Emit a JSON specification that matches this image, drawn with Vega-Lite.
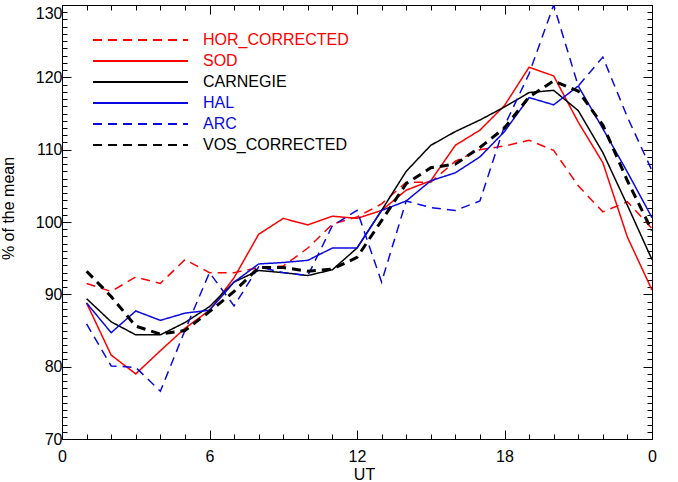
{
  "$schema": "https://vega.github.io/schema/vega-lite/v6.json",
  "width": 590,
  "height": 434,
  "autosize": {"type": "none"},
  "padding": {"left": 62, "top": 5, "right": 26, "bottom": 43},
  "data": {
    "values": [
      {"UT": 1, "series": "HOR_CORRECTED", "pct": 91.5}, {"UT": 2, "series": "HOR_CORRECTED", "pct": 90.4},
      {"UT": 3, "series": "HOR_CORRECTED", "pct": 92.4}, {"UT": 4, "series": "HOR_CORRECTED", "pct": 91.5},
      {"UT": 5, "series": "HOR_CORRECTED", "pct": 94.8}, {"UT": 6, "series": "HOR_CORRECTED", "pct": 93.0},
      {"UT": 7, "series": "HOR_CORRECTED", "pct": 93.0}, {"UT": 8, "series": "HOR_CORRECTED", "pct": 93.7},
      {"UT": 9, "series": "HOR_CORRECTED", "pct": 93.9}, {"UT": 10, "series": "HOR_CORRECTED", "pct": 96.4},
      {"UT": 11, "series": "HOR_CORRECTED", "pct": 99.7}, {"UT": 12, "series": "HOR_CORRECTED", "pct": 100.7},
      {"UT": 13, "series": "HOR_CORRECTED", "pct": 102.5}, {"UT": 14, "series": "HOR_CORRECTED", "pct": 105.5},
      {"UT": 15, "series": "HOR_CORRECTED", "pct": 105.5}, {"UT": 16, "series": "HOR_CORRECTED", "pct": 108.4},
      {"UT": 17, "series": "HOR_CORRECTED", "pct": 110.0}, {"UT": 18, "series": "HOR_CORRECTED", "pct": 110.5},
      {"UT": 19, "series": "HOR_CORRECTED", "pct": 111.3}, {"UT": 20, "series": "HOR_CORRECTED", "pct": 109.9},
      {"UT": 21, "series": "HOR_CORRECTED", "pct": 105.0}, {"UT": 22, "series": "HOR_CORRECTED", "pct": 101.4},
      {"UT": 23, "series": "HOR_CORRECTED", "pct": 102.8}, {"UT": 24, "series": "HOR_CORRECTED", "pct": 99.1},

      {"UT": 1, "series": "SOD", "pct": 88.8}, {"UT": 2, "series": "SOD", "pct": 81.6},
      {"UT": 3, "series": "SOD", "pct": 79.0}, {"UT": 4, "series": "SOD", "pct": 82.2},
      {"UT": 5, "series": "SOD", "pct": 85.3}, {"UT": 6, "series": "SOD", "pct": 87.8},
      {"UT": 7, "series": "SOD", "pct": 92.3}, {"UT": 8, "series": "SOD", "pct": 98.3},
      {"UT": 9, "series": "SOD", "pct": 100.5}, {"UT": 10, "series": "SOD", "pct": 99.6},
      {"UT": 11, "series": "SOD", "pct": 100.8}, {"UT": 12, "series": "SOD", "pct": 100.5},
      {"UT": 13, "series": "SOD", "pct": 101.6}, {"UT": 14, "series": "SOD", "pct": 104.4},
      {"UT": 15, "series": "SOD", "pct": 105.7}, {"UT": 16, "series": "SOD", "pct": 110.6},
      {"UT": 17, "series": "SOD", "pct": 112.7}, {"UT": 18, "series": "SOD", "pct": 116.1},
      {"UT": 19, "series": "SOD", "pct": 121.4}, {"UT": 20, "series": "SOD", "pct": 120.2},
      {"UT": 21, "series": "SOD", "pct": 113.8}, {"UT": 22, "series": "SOD", "pct": 108.2},
      {"UT": 23, "series": "SOD", "pct": 97.9}, {"UT": 24, "series": "SOD", "pct": 90.6},

      {"UT": 1, "series": "CARNEGIE", "pct": 89.4}, {"UT": 2, "series": "CARNEGIE", "pct": 86.2},
      {"UT": 3, "series": "CARNEGIE", "pct": 84.4}, {"UT": 4, "series": "CARNEGIE", "pct": 84.4},
      {"UT": 5, "series": "CARNEGIE", "pct": 86.1}, {"UT": 6, "series": "CARNEGIE", "pct": 88.3},
      {"UT": 7, "series": "CARNEGIE", "pct": 91.7}, {"UT": 8, "series": "CARNEGIE", "pct": 93.3},
      {"UT": 9, "series": "CARNEGIE", "pct": 93.0}, {"UT": 10, "series": "CARNEGIE", "pct": 92.6},
      {"UT": 11, "series": "CARNEGIE", "pct": 93.4}, {"UT": 12, "series": "CARNEGIE", "pct": 96.4},
      {"UT": 13, "series": "CARNEGIE", "pct": 101.6}, {"UT": 14, "series": "CARNEGIE", "pct": 107.0},
      {"UT": 15, "series": "CARNEGIE", "pct": 110.6}, {"UT": 16, "series": "CARNEGIE", "pct": 112.5},
      {"UT": 17, "series": "CARNEGIE", "pct": 114.1}, {"UT": 18, "series": "CARNEGIE", "pct": 115.9},
      {"UT": 19, "series": "CARNEGIE", "pct": 117.9}, {"UT": 20, "series": "CARNEGIE", "pct": 118.2},
      {"UT": 21, "series": "CARNEGIE", "pct": 115.4}, {"UT": 22, "series": "CARNEGIE", "pct": 109.6},
      {"UT": 23, "series": "CARNEGIE", "pct": 102.3}, {"UT": 24, "series": "CARNEGIE", "pct": 94.8},

      {"UT": 1, "series": "HAL", "pct": 88.8}, {"UT": 2, "series": "HAL", "pct": 84.7},
      {"UT": 3, "series": "HAL", "pct": 87.7}, {"UT": 4, "series": "HAL", "pct": 86.4},
      {"UT": 5, "series": "HAL", "pct": 87.4}, {"UT": 6, "series": "HAL", "pct": 87.8},
      {"UT": 7, "series": "HAL", "pct": 91.7}, {"UT": 8, "series": "HAL", "pct": 94.2},
      {"UT": 9, "series": "HAL", "pct": 94.4}, {"UT": 10, "series": "HAL", "pct": 94.7},
      {"UT": 11, "series": "HAL", "pct": 96.4}, {"UT": 12, "series": "HAL", "pct": 96.4},
      {"UT": 13, "series": "HAL", "pct": 101.6}, {"UT": 14, "series": "HAL", "pct": 102.9},
      {"UT": 15, "series": "HAL", "pct": 105.7}, {"UT": 16, "series": "HAL", "pct": 106.8},
      {"UT": 17, "series": "HAL", "pct": 109.0}, {"UT": 18, "series": "HAL", "pct": 112.5},
      {"UT": 19, "series": "HAL", "pct": 117.2}, {"UT": 20, "series": "HAL", "pct": 116.2},
      {"UT": 21, "series": "HAL", "pct": 118.8}, {"UT": 22, "series": "HAL", "pct": 112.9},
      {"UT": 23, "series": "HAL", "pct": 106.9}, {"UT": 24, "series": "HAL", "pct": 100.6},

      {"UT": 1, "series": "ARC", "pct": 85.9}, {"UT": 2, "series": "ARC", "pct": 80.1},
      {"UT": 3, "series": "ARC", "pct": 79.9}, {"UT": 4, "series": "ARC", "pct": 76.6},
      {"UT": 5, "series": "ARC", "pct": 85.0}, {"UT": 6, "series": "ARC", "pct": 93.0},
      {"UT": 7, "series": "ARC", "pct": 88.4}, {"UT": 8, "series": "ARC", "pct": 93.8},
      {"UT": 9, "series": "ARC", "pct": 93.0}, {"UT": 10, "series": "ARC", "pct": 92.6},
      {"UT": 11, "series": "ARC", "pct": 99.5}, {"UT": 12, "series": "ARC", "pct": 101.6},
      {"UT": 13, "series": "ARC", "pct": 91.7}, {"UT": 14, "series": "ARC", "pct": 102.9},
      {"UT": 15, "series": "ARC", "pct": 102.0}, {"UT": 16, "series": "ARC", "pct": 101.6},
      {"UT": 17, "series": "ARC", "pct": 102.9}, {"UT": 18, "series": "ARC", "pct": 113.3},
      {"UT": 19, "series": "ARC", "pct": 120.5}, {"UT": 20, "series": "ARC", "pct": 130.0},
      {"UT": 21, "series": "ARC", "pct": 118.8}, {"UT": 22, "series": "ARC", "pct": 122.8},
      {"UT": 23, "series": "ARC", "pct": 114.5}, {"UT": 24, "series": "ARC", "pct": 107.1},

      {"UT": 1, "series": "VOS_CORRECTED", "pct": 93.2}, {"UT": 2, "series": "VOS_CORRECTED", "pct": 89.7},
      {"UT": 3, "series": "VOS_CORRECTED", "pct": 85.6}, {"UT": 4, "series": "VOS_CORRECTED", "pct": 84.5},
      {"UT": 5, "series": "VOS_CORRECTED", "pct": 85.0}, {"UT": 6, "series": "VOS_CORRECTED", "pct": 87.6},
      {"UT": 7, "series": "VOS_CORRECTED", "pct": 90.4}, {"UT": 8, "series": "VOS_CORRECTED", "pct": 93.7},
      {"UT": 9, "series": "VOS_CORRECTED", "pct": 93.7}, {"UT": 10, "series": "VOS_CORRECTED", "pct": 93.2},
      {"UT": 11, "series": "VOS_CORRECTED", "pct": 93.5}, {"UT": 12, "series": "VOS_CORRECTED", "pct": 95.1},
      {"UT": 13, "series": "VOS_CORRECTED", "pct": 100.2}, {"UT": 14, "series": "VOS_CORRECTED", "pct": 105.3},
      {"UT": 15, "series": "VOS_CORRECTED", "pct": 107.5}, {"UT": 16, "series": "VOS_CORRECTED", "pct": 108.0},
      {"UT": 17, "series": "VOS_CORRECTED", "pct": 110.3}, {"UT": 18, "series": "VOS_CORRECTED", "pct": 113.0},
      {"UT": 19, "series": "VOS_CORRECTED", "pct": 117.3}, {"UT": 20, "series": "VOS_CORRECTED", "pct": 119.5},
      {"UT": 21, "series": "VOS_CORRECTED", "pct": 118.1}, {"UT": 22, "series": "VOS_CORRECTED", "pct": 113.4},
      {"UT": 23, "series": "VOS_CORRECTED", "pct": 105.7}, {"UT": 24, "series": "VOS_CORRECTED", "pct": 98.8}
    ]
  },
  "layer": [
    {
      "mark": {"type": "line", "clip": true},
      "encoding": {
        "x": {
          "field": "UT",
          "type": "quantitative",
          "scale": {"domain": [0, 24], "nice": false, "zero": false},
          "axis": {
            "orient": "bottom",
            "title": "UT",
            "titleX": 302,
            "titleY": 35,
            "titleBaseline": "middle",
            "values": [0, 1, 2, 3, 4, 5, 6, 7, 8, 9, 10, 11, 12, 13, 14, 15, 16, 17, 18, 19, 20, 21, 22, 23, 24],
            "labelExpr": "datum.value % 6 === 0 ? (datum.value === 24 ? '0' : datum.label) : ''",
            "tickSize": {"condition": {"test": "datum.value % 6 === 0", "value": -9}, "value": -5},
            "labelPadding": 18,
            "labelOverlap": false,
            "labelFlush": false,
            "grid": false
          }
        },
        "y": {
          "field": "pct",
          "type": "quantitative",
          "scale": {"domain": [70, 130], "nice": false, "zero": false},
          "axis": {
            "orient": "left",
            "title": "% of the mean",
            "titleX": -54,
            "titleY": 203,
            "titleAngle": 270,
            "titleAlign": "center",
            "titleBaseline": "middle",
            "values": [70, 71, 72, 73, 74, 75, 76, 77, 78, 79, 80, 81, 82, 83, 84, 85, 86, 87, 88, 89, 90, 91, 92, 93, 94, 95, 96, 97, 98, 99, 100, 101, 102, 103, 104, 105, 106, 107, 108, 109, 110, 111, 112, 113, 114, 115, 116, 117, 118, 119, 120, 121, 122, 123, 124, 125, 126, 127, 128, 129, 130],
            "labelExpr": "datum.value % 10 === 0 ? datum.label : ''",
            "labelBaseline": {"condition": {"test": "datum.value === 130", "value": "top"}, "value": "middle"},
            "tickSize": {"condition": {"test": "datum.value % 10 === 0", "value": -9}, "value": -5},
            "labelPadding": 9,
            "labelOverlap": false,
            "labelFlush": false,
            "grid": false
          }
        },
        "color": {
          "field": "series",
          "type": "nominal",
          "scale": {
            "domain": ["HOR_CORRECTED", "SOD", "CARNEGIE", "HAL", "ARC", "VOS_CORRECTED"],
            "range": ["#ff0000", "#ff0000", "#000000", "#0a0ae0", "#0a0ae0", "#000000"]
          },
          "legend": {
            "orient": "none",
            "legendX": 31,
            "legendY": 24.5,
            "title": null,
            "padding": 0,
            "rowPadding": 2,
            "symbolType": "M-5,0H5",
            "symbolSize": 361,
            "symbolStrokeWidth": 2,
            "symbolOffset": 37,
            "labelOffset": 52,
            "labelFontSize": 16,
            "labelLimit": 300,
            "encode": {"labels": {"update": {"fill": {"scale": "color", "field": "value"}}}}
          }
        },
        "strokeDash": {
          "field": "series",
          "type": "nominal",
          "scale": {
            "domain": ["HOR_CORRECTED", "SOD", "CARNEGIE", "HAL", "ARC", "VOS_CORRECTED"],
            "range": [[9, 6], [1, 0], [1, 0], [1, 0], [9, 6], [9, 6]]
          },
          "legend": {
            "orient": "none",
            "legendX": 31,
            "legendY": 24.5,
            "title": null
          }
        },
        "strokeWidth": {
          "condition": {"test": "datum.series === 'VOS_CORRECTED'", "value": 3},
          "value": 1.5
        }
      }
    },
    {
      "mark": {"type": "point", "opacity": 0},
      "encoding": {
        "x": {
          "field": "UT",
          "type": "quantitative",
          "axis": {
            "orient": "top",
            "title": null,
            "labels": false,
            "values": [0, 1, 2, 3, 4, 5, 6, 7, 8, 9, 10, 11, 12, 13, 14, 15, 16, 17, 18, 19, 20, 21, 22, 23, 24],
            "tickSize": {"condition": {"test": "datum.value % 6 === 0", "value": -9}, "value": -5},
            "grid": false
          }
        },
        "y": {
          "field": "pct",
          "type": "quantitative",
          "axis": {
            "orient": "right",
            "title": null,
            "labels": false,
            "values": [70, 71, 72, 73, 74, 75, 76, 77, 78, 79, 80, 81, 82, 83, 84, 85, 86, 87, 88, 89, 90, 91, 92, 93, 94, 95, 96, 97, 98, 99, 100, 101, 102, 103, 104, 105, 106, 107, 108, 109, 110, 111, 112, 113, 114, 115, 116, 117, 118, 119, 120, 121, 122, 123, 124, 125, 126, 127, 128, 129, 130],
            "tickSize": {"condition": {"test": "datum.value % 10 === 0", "value": -9}, "value": -5},
            "grid": false
          }
        }
      }
    }
  ],
  "config": {
    "font": "Liberation Sans",
    "view": {"stroke": "#000000", "strokeWidth": 1},
    "axis": {
      "domainColor": "#000000",
      "domainWidth": 1,
      "tickColor": "#000000",
      "tickWidth": 1,
      "labelColor": "#000000",
      "labelFontSize": 16,
      "titleFontSize": 16,
      "titleFontWeight": "normal",
      "titleColor": "#000000"
    },
    "legend": {"labelFont": "Liberation Sans"}
  }
}
